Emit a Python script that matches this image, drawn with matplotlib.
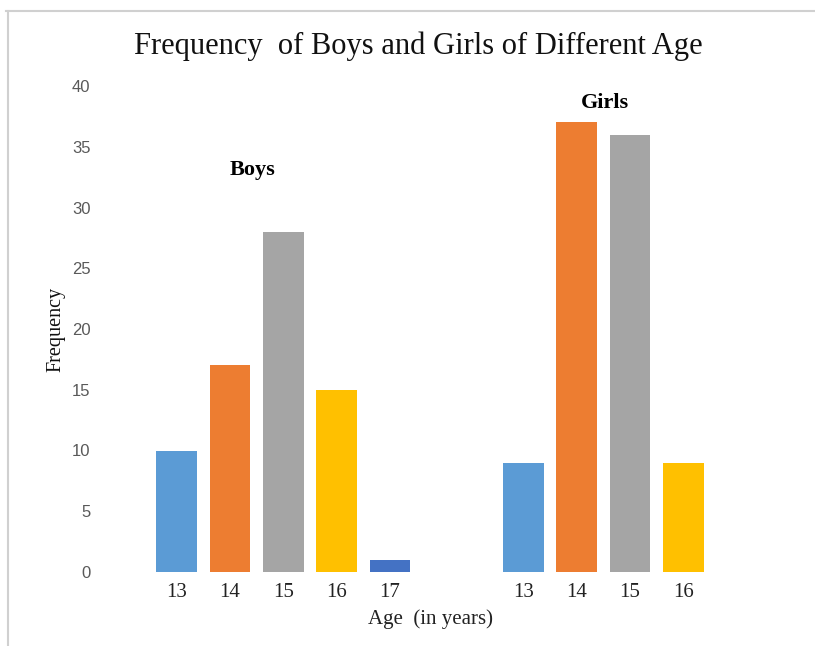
"""
Frequency of boys and girls of different age, grouped bar chart.
"""

import matplotlib

matplotlib.use("Agg")

import matplotlib.pyplot as plt
from matplotlib.lines import Line2D

BOYS_AGES = ["13", "14", "15", "16", "17"]
BOYS_FREQ = [10, 17, 28, 15, 1]
GIRLS_AGES = ["13", "14", "15", "16"]
GIRLS_FREQ = [9, 37, 36, 9]

AGE_COLORS = {
    "13": "#5B9BD5",
    "14": "#ED7D31",
    "15": "#A5A5A5",
    "16": "#FFC000",
    "17": "#4472C4",
}

SERIF = "Liberation Serif"
SANS = "Liberation Sans"


def main() -> None:
    fig = plt.figure(figsize=(8.15, 6.46), dpi=100)
    ax = fig.add_axes([110 / 815, 74 / 646, 640 / 815, 486 / 646])

    boys_x = list(range(len(BOYS_AGES)))
    girls_start = len(BOYS_AGES) + 1.5
    girls_x = [girls_start + i for i in range(len(GIRLS_AGES))]

    ax.bar(boys_x, BOYS_FREQ, width=0.76,
           color=[AGE_COLORS[a] for a in BOYS_AGES])
    ax.bar(girls_x, GIRLS_FREQ, width=0.76,
           color=[AGE_COLORS[a] for a in GIRLS_AGES])

    ax.set_xlim(-1.25, 10.75)
    ax.set_ylim(0, 40)
    ax.set_yticks(range(0, 41, 5))
    ax.set_xticks(boys_x + girls_x)
    ax.set_xticklabels(BOYS_AGES + GIRLS_AGES, family=SERIF, fontsize=15,
                       color="#222222")
    for label in ax.get_yticklabels():
        label.set_family(SANS)
        label.set_fontsize(12)
        label.set_color("#595959")
    ax.tick_params(axis="both", length=0)
    ax.tick_params(axis="y", pad=14)
    ax.tick_params(axis="x", pad=8)
    for spine in ax.spines.values():
        spine.set_visible(False)

    ax.set_xlabel("Age  (in years)", family=SERIF, fontsize=15,
                  color="#222222", labelpad=5)
    ax.set_ylabel("Frequency", family=SERIF, fontsize=14.5,
                  color="#111111", labelpad=5)

    ax.text(1.42, 33.1, "Boys", family=SERIF, fontsize=16, weight="bold",
            ha="center", va="center")
    ax.text(8.03, 38.6, "Girls", family=SERIF, fontsize=16, weight="bold",
            ha="center", va="center")

    fig.text(418 / 815, 1 - 46 / 646,
             "Frequency  of Boys and Girls of Different Age",
             family=SERIF, fontsize=22, ha="center", va="center",
             color="#111111")

    # light frame around the chart area (top and left edges only visible)
    frame_color = "#d0d0d0"
    fig.add_artist(Line2D([6 / 815, 1], [1 - 11 / 646, 1 - 11 / 646],
                          color=frame_color, lw=1.5))
    fig.add_artist(Line2D([8 / 815, 8 / 815], [0, 1 - 11 / 646],
                          color=frame_color, lw=1.5))

    fig.savefig("out.png", dpi=100)
    plt.close(fig)


if __name__ == "__main__":
    main()
